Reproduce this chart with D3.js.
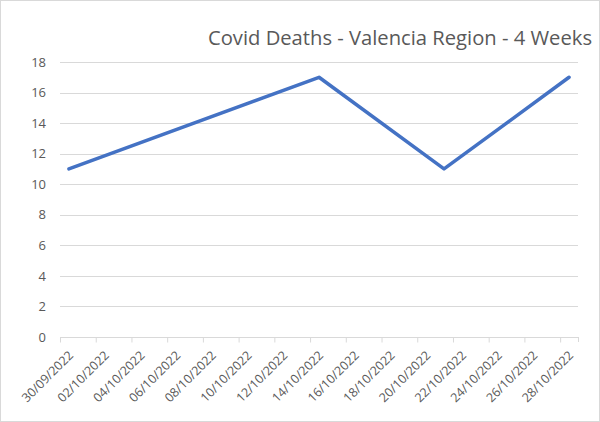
<!DOCTYPE html>
<html><head><meta charset="utf-8">
<script src="https://cdn.jsdelivr.net/npm/d3@7"></script>
<style>body{margin:0;background:#fff}svg{display:block}</style>
</head><body><svg id="c" width="600" height="422"></svg>
<script>
const dates = ["30/09/2022","14/10/2022","21/10/2022","28/10/2022"];
const deaths = [11, 17, 11, 17];
const tickLabels = ["30/09/2022","02/10/2022","04/10/2022","06/10/2022","08/10/2022","10/10/2022","12/10/2022","14/10/2022","16/10/2022","18/10/2022","20/10/2022","22/10/2022","24/10/2022","26/10/2022","28/10/2022"];
const yTicks = [0,2,4,6,8,10,12,14,16,18];
const title = "Covid Deaths - Valencia Region - 4 Weeks";

const parse = d3.timeParse("%d/%m/%Y");
const svg = d3.select("#c");
const font = "'Open Sans', Calibri, sans-serif";
const grey = "#595959";
svg.append("rect").attr("x",0.5).attr("y",0.5).attr("width",599).attr("height",421)
  .attr("fill","#fff").attr("stroke","#d9d9d9");

const L=60, R=578, T=62, B=337;
const start = parse("30/09/2022"), endNext = d3.timeDay.offset(parse("28/10/2022"),1);
const x = d3.scaleTime().domain([start,endNext]).range([L,R]);
const dayW = (R-L)/d3.timeDay.count(start,endNext);
const cx = d => x(parse(d)) + dayW/2;
const y = d3.scaleLinear().domain([0,18]).range([B,T]);

// gridlines
svg.append("g").selectAll("line").data(yTicks.filter(v=>v>0)).join("line")
  .attr("x1",L).attr("x2",R).attr("y1",d=>Math.round(y(d))+0.5).attr("y2",d=>Math.round(y(d))+0.5)
  .attr("stroke","#d9d9d9").attr("stroke-width",1);

// y axis labels
const ya = svg.append("g").attr("transform",`translate(${L},0)`)
  .call(d3.axisLeft(y).tickValues(yTicks).tickSize(0).tickPadding(14));
ya.select(".domain").remove();
ya.selectAll("text").attr("font-family",font).attr("font-size",13).attr("fill",grey);

// x axis
const tickDates = tickLabels.map(parse);
const xa = svg.append("g").attr("transform",`translate(0,${Math.round(B)+0.5})`)
  .call(d3.axisBottom(x).tickValues(tickDates).tickSize(5).tickFormat(""));
xa.select(".domain").attr("d",`M${L},0H${R}`).attr("stroke","#d9d9d9");
xa.selectAll(".tick line").attr("stroke","#d9d9d9");
svg.append("line").attr("x1",R+0.5).attr("x2",R+0.5).attr("y1",Math.round(B)).attr("y2",Math.round(B)+5).attr("stroke","#d9d9d9");
svg.append("g").selectAll("text").data(tickLabels).join("text")
  .attr("transform",d=>`translate(${cx(d)+2},${B+16}) rotate(-45)`)
  .attr("text-anchor","end").attr("dy","0.35em")
  .attr("font-family",font).attr("font-size",12.5).attr("fill",grey).text(d=>d);

// line
const line = d3.line().x(d=>cx(d[0])).y(d=>y(d[1]));
svg.append("path").datum(dates.map((d,i)=>[d,deaths[i]]))
  .attr("d",line).attr("fill","none").attr("stroke","#4472C4").attr("stroke-width",3.5)
  .attr("stroke-linejoin","round").attr("stroke-linecap","round");

// title
svg.append("text").attr("x",592).attr("y",45).attr("text-anchor","end")
  .attr("font-family",font).attr("font-size",20.2).attr("fill",grey).text(title);
</script></body></html>
